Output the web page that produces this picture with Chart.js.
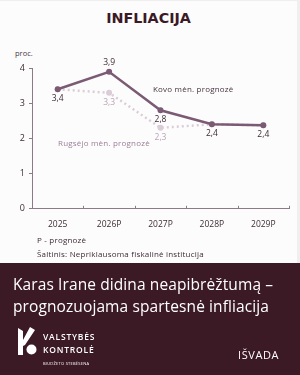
<!DOCTYPE html>
<html>
<head>
<meta charset="utf-8">
<script src="https://cdn.jsdelivr.net/npm/chart.js@4.4.1/dist/chart.umd.min.js"></script>
<style>
  html, body { margin: 0; padding: 0; }
  body { width: 300px; height: 375px; position: relative; overflow: hidden; background: #f1eef0; font-family: "Open Sans", sans-serif; }
  .card { position: absolute; left: 0; top: 1px; width: 297px; height: 262px; background: #fdfcfd; }
  .title { position: absolute; left: 0; width: 297px; top: 10px; text-align: center; font: bold 14.3px "DejaVu Sans", sans-serif; color: #3b1a26; }
  .unit { position: absolute; left: 15px; top: 48px; font-size: 7.5px; color: #4a3a42; }
  canvas { position: absolute; left: 0; top: 40px; }
  .ann { position: absolute; font-size: 8px; letter-spacing: 0.2px; white-space: nowrap; }
  .note { position: absolute; left: 37px; font-size: 8px; letter-spacing: 0.2px; color: #3d2c35; white-space: nowrap; }
  .footer { position: absolute; left: 0; top: 263px; width: 300px; height: 112px; background: #3b1a25; color: #fff; }
  .head { position: absolute; left: 13px; top: 10px; font-size: 15.5px; line-height: 22px; font-weight: 500; letter-spacing: 0.1px; }
  .logo { position: absolute; left: 16px; top: 63px; }
  .vk { position: absolute; left: 43px; font-size: 8.5px; font-weight: 600; letter-spacing: 0.8px; }
  .small { position: absolute; left: 43px; top: 98px; font-size: 4px; letter-spacing: 0.25px; }
  .isvada { position: absolute; left: 238px; top: 84px; font-size: 11px; font-weight: 500; letter-spacing: 0.6px; }
</style>
</head>
<body>
<div class="card"></div>
<div class="title">INFLIACIJA</div>
<div class="unit">proc.</div>
<canvas id="chart" width="297" height="195"></canvas>
<div class="ann" style="left:153px; top:83px; color:#45343d;">Kovo mėn. prognozė</div>
<div class="ann" style="left:58px; top:137px; color:#9a7e96;">Rugsėjo mėn. prognozė</div>
<div class="note" style="top:234px;">P - prognozė</div>
<div class="note" style="top:248px;">Šaltinis: Nepriklausoma fiskalinė institucija</div>
<div class="footer">
  <div class="head">Karas Irane didina neapibrėžtumą –<br>prognozuojama spartesnė infliacija</div>
  <svg class="logo" width="22" height="30" viewBox="0 0 22 30">
    <polygon points="2,2 7,5 7,14 14,1 19,4 9,19 7,20 7,29 2,29" fill="#fff"/>
    <circle cx="15.5" cy="23.5" r="5" fill="#fff"/>
  </svg>
  <div class="vk" style="top:68px;">VALSTYBĖS</div>
  <div class="vk" style="top:81px;">KONTROLĖ</div>
  <div class="small">BIUDŽETO STEBĖSENA</div>
  <div class="isvada">IŠVADA</div>
</div>
<script>
const years = ['2025', '2026P', '2027P', '2028P', '2029P'];
const marchForecast = [3.4, 3.9, 2.8, 2.4, 2.37];
const septForecast = [3.4, 3.3, 2.3, 2.4, 2.37];
const yTicks = [0, 1, 2, 3, 4];

const axisColor = '#8c7a86';

// which points get a value label, and where (1 = below, -1 = above, 0 = none)
const marchLabelPos = [1, -1, 1, 1, 1];
const septLabelPos = [0, 1, 1, 0, 0];

const valueLabels = {
    id: 'valueLabels',
    afterDatasetsDraw(chart) {
        const ctx = chart.ctx;
        ctx.save();
        ctx.font = '8.5px "Open Sans"';
        ctx.textAlign = 'center';
        ctx.textBaseline = 'middle';
        const sets = [[1, marchLabelPos, '#3d2c35'], [0, septLabelPos, '#b9a4b5']];
        sets.forEach(([di, posList, color]) => {
            const meta = chart.getDatasetMeta(di);
            const data = chart.data.datasets[di].data;
            ctx.fillStyle = color;
            meta.data.forEach((pt, i) => {
                if (!posList[i]) return;
                const txt = data[i].toFixed(1).replace('.', ',');
                ctx.fillText(txt, pt.x, pt.y + posList[i] * 9.5);
            });
        });
        // small x-axis ticks pointing up
        const xs = chart.scales.x;
        const n = years.length;
        ctx.strokeStyle = axisColor;
        ctx.lineWidth = 1;
        for (let i = 0; i <= n; i++) {
            const x = Math.round(xs.left + i * (xs.width / n)) + 0.5;
            ctx.beginPath();
            ctx.moveTo(x, xs.top);
            ctx.lineTo(x, xs.top - 2.5);
            ctx.stroke();
        }
        ctx.restore();
    }
};

new Chart(document.getElementById('chart').getContext('2d'), {
    type: 'line',
    data: {
        labels: years,
        datasets: [{
            label: 'Rugsėjo mėn. prognozė',
            data: septForecast,
            order: 1,
            borderColor: '#dacdd7',
            backgroundColor: '#dacdd7',
            borderWidth: 2.5,
            borderDash: [2, 3],
            pointRadius: 3,
            pointBorderWidth: 0,
            tension: 0
        }, {
            label: 'Kovo mėn. prognozė',
            data: marchForecast,
            order: 0,
            borderColor: '#7b5a74',
            backgroundColor: '#7b5a74',
            borderWidth: 2.5,
            pointRadius: 3,
            pointBorderWidth: 0,
            tension: 0
        }]
    },
    options: {
        responsive: false,
        animation: false,
        devicePixelRatio: 1,
        layout: { padding: { top: 28.3, right: 8, bottom: 0, left: 0 } },
        plugins: { legend: { display: false }, tooltip: { enabled: false } },
        scales: {
            x: {
                offset: true,
                grid: { display: false },
                border: { display: true, color: axisColor, width: 1 },
                ticks: { color: '#3d2c35', font: { family: 'Open Sans', size: 8.5 }, padding: 3, maxRotation: 0 },
                afterFit(scale) { scale.height = 26.7; }
            },
            y: {
                min: 0,
                max: 4,
                afterBuildTicks(scale) { scale.ticks = yTicks.map(v => ({ value: v })); },
                grid: { drawOnChartArea: false, tickLength: 3, color: axisColor },
                border: { display: true, color: axisColor, width: 1 },
                ticks: { color: '#3d2c35', font: { family: 'Open Sans', size: 9 }, padding: 4 },
                afterFit(scale) { scale.width = 32; }
            }
        }
    },
    plugins: [valueLabels]
});
</script>
</body>
</html>
